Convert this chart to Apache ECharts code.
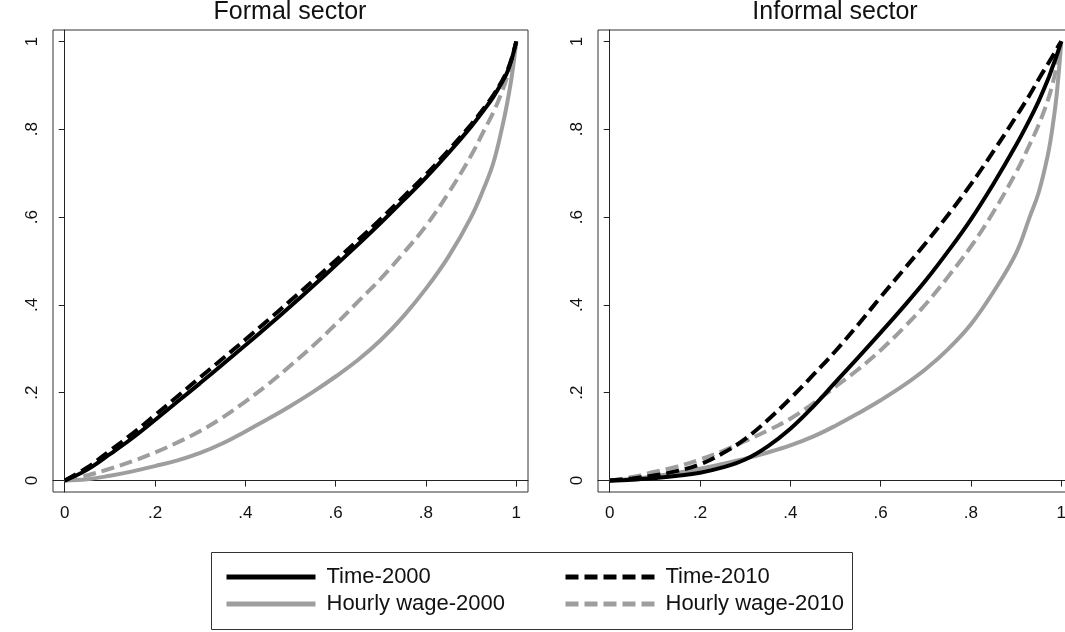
<!DOCTYPE html>
<html>
<head>
<meta charset="utf-8">
<title>Concentration curves</title>
<script src="https://cdn.jsdelivr.net/npm/echarts@6/dist/echarts.min.js"></script>
<style>
  html, body { margin: 0; padding: 0; background: #fff; }
  #chart { width: 1065px; height: 632px; }
</style>
</head>
<body>
<div id="chart"></div>
<script>
"use strict";

// cumulative population share (x) shared by all curves
var shares = [0, 0.05, 0.1, 0.15, 0.2, 0.25, 0.3, 0.35, 0.4, 0.45, 0.5, 0.55, 0.6,
  0.65, 0.7, 0.75, 0.8, 0.85, 0.9, 0.93, 0.95, 0.97, 0.98, 0.99, 1];

// formal sector
var formalTime2000 = [0, 0.025, 0.06, 0.097, 0.138, 0.18, 0.222, 0.265, 0.308, 0.352, 0.397, 0.443, 0.49,
  0.538, 0.587, 0.638, 0.69, 0.746, 0.806, 0.846, 0.875, 0.91, 0.93, 0.96, 1];
var formalTime2010 = [0, 0.03, 0.068, 0.107, 0.149, 0.192, 0.235, 0.278, 0.321, 0.365, 0.41, 0.455, 0.501,
  0.548, 0.596, 0.646, 0.697, 0.752, 0.811, 0.85, 0.879, 0.913, 0.933, 0.962, 1];
var formalWage2000 = [0, 0.003, 0.011, 0.021, 0.033, 0.046, 0.063, 0.085, 0.112, 0.14, 0.17, 0.202, 0.237,
  0.275, 0.32, 0.374, 0.437, 0.51, 0.6, 0.67, 0.726, 0.81, 0.86, 0.92, 1];
var formalWage2010 = [0, 0.012, 0.027, 0.044, 0.064, 0.087, 0.113, 0.144, 0.18, 0.219, 0.262, 0.307, 0.356,
  0.408, 0.46, 0.518, 0.58, 0.655, 0.74, 0.8, 0.84, 0.89, 0.92, 0.955, 1];

// informal sector
var informalTime2000 = [0, 0.002, 0.006, 0.011, 0.018, 0.03, 0.048, 0.078, 0.118, 0.168, 0.224, 0.28, 0.337,
  0.395, 0.456, 0.523, 0.595, 0.676, 0.764, 0.822, 0.864, 0.912, 0.94, 0.968, 1];
var informalTime2010 = [0, 0.005, 0.012, 0.022, 0.037, 0.062, 0.095, 0.138, 0.187, 0.24, 0.295, 0.355, 0.418,
  0.479, 0.541, 0.606, 0.675, 0.75, 0.829, 0.878, 0.914, 0.948, 0.965, 0.983, 1];
var informalWage2000 = [0, 0.004, 0.01, 0.018, 0.027, 0.038, 0.05, 0.064, 0.08, 0.1, 0.125, 0.153, 0.183,
  0.216, 0.254, 0.3, 0.356, 0.43, 0.518, 0.6, 0.656, 0.74, 0.8, 0.88, 1];
var informalWage2010 = [0, 0.008, 0.02, 0.032, 0.048, 0.067, 0.09, 0.114, 0.141, 0.175, 0.214, 0.253, 0.297,
  0.347, 0.402, 0.465, 0.533, 0.612, 0.702, 0.765, 0.81, 0.865, 0.9, 0.945, 1];

var tickValues = [0, 0.2, 0.4, 0.6, 0.8, 1];
var tickLabels = ["0", ".2", ".4", ".6", ".8", "1"];
var panelTitles = ["Formal sector", "Informal sector"];

var FONT = "'Liberation Sans', Arial, sans-serif";
var BLACK = "#000000";
var GREY = "#9e9e9e";

function pairs(ys) {
  return ys.map(function (y, i) {
    return [shares[i], y];
  });
}

function tickText(v) {
  for (var i = 0; i < tickValues.length; i++) {
    if (Math.abs(tickValues[i] - v) < 1e-6) return tickLabels[i];
  }
  return "";
}

function axis(idx, isY) {
  return {
    type: "value",
    gridIndex: idx,
    min: -0.026,
    max: 1.026,
    splitLine: { show: false },
    axisLine: { show: true, lineStyle: { color: "#222", width: 1 } },
    axisTick: {
      show: true,
      length: 6,
      customValues: tickValues,
      lineStyle: { color: "#222", width: 1 },
    },
    axisLabel: {
      customValues: tickValues,
      formatter: tickText,
      rotate: isY ? 90 : 0,
      margin: isY ? 12 : 13,
      fontSize: 17,
      fontFamily: FONT,
      color: "#111",
    },
  };
}

function curve(name, idx, ys, color, dashed) {
  return {
    name: name,
    type: "line",
    xAxisIndex: idx,
    yAxisIndex: idx,
    data: pairs(ys),
    smooth: 0.4,
    symbol: "none",
    lineStyle: {
      color: color,
      width: 4,
      type: dashed ? [13, 6] : "solid",
    },
    itemStyle: { color: color },
  };
}

function legendColumn(names, left) {
  return {
    data: names,
    orient: "vertical",
    left: left,
    top: 566,
    itemWidth: 89,
    itemHeight: 14,
    itemGap: 5,
    padding: 0,
    itemStyle: { opacity: 0 },
    lineStyle: { width: 5 },
    textStyle: { fontSize: 22, fontFamily: FONT, color: "#111", padding: [0, 0, 0, 6] },
  };
}

var chart = echarts.init(document.getElementById("chart"), null, { renderer: "canvas" });

var titleStyle = { fontSize: 25, fontWeight: "normal", fontFamily: FONT, color: "#111" };

var option = {
  animation: false,
  backgroundColor: "#fff",
  title: [
    { text: panelTitles[0], left: 290, top: 0, textAlign: "center", padding: 0, textStyle: titleStyle },
    { text: panelTitles[1], left: 835, top: 0, textAlign: "center", padding: 0, textStyle: titleStyle },
  ],
  grid: [
    { left: 53, top: 30, width: 475, height: 462, outerBoundsMode: "none", show: true, borderColor: "#333", borderWidth: 1 },
    { left: 598, top: 30, width: 475, height: 462, outerBoundsMode: "none", show: true, borderColor: "#333", borderWidth: 1 },
  ],
  xAxis: [axis(0, false), axis(1, false)],
  yAxis: [axis(0, true), axis(1, true)],
  legend: [
    legendColumn(["Time-2000", "Hourly wage-2000"], 224),
    legendColumn(["Time-2010", "Hourly wage-2010"], 563),
  ],
  graphic: [
    {
      type: "rect",
      shape: { x: 211.5, y: 552.5, width: 641, height: 77 },
      style: { fill: "none", stroke: "#333", lineWidth: 1 },
      silent: true,
    },
  ],
  series: [
    curve("Hourly wage-2000", 0, formalWage2000, GREY, false),
    curve("Hourly wage-2010", 0, formalWage2010, GREY, true),
    curve("Time-2000", 0, formalTime2000, BLACK, false),
    curve("Time-2010", 0, formalTime2010, BLACK, true),
    curve("Hourly wage-2000", 1, informalWage2000, GREY, false),
    curve("Hourly wage-2010", 1, informalWage2010, GREY, true),
    curve("Time-2000", 1, informalTime2000, BLACK, false),
    curve("Time-2010", 1, informalTime2010, BLACK, true),
  ],
};

chart.setOption(option);
</script>
</body>
</html>
